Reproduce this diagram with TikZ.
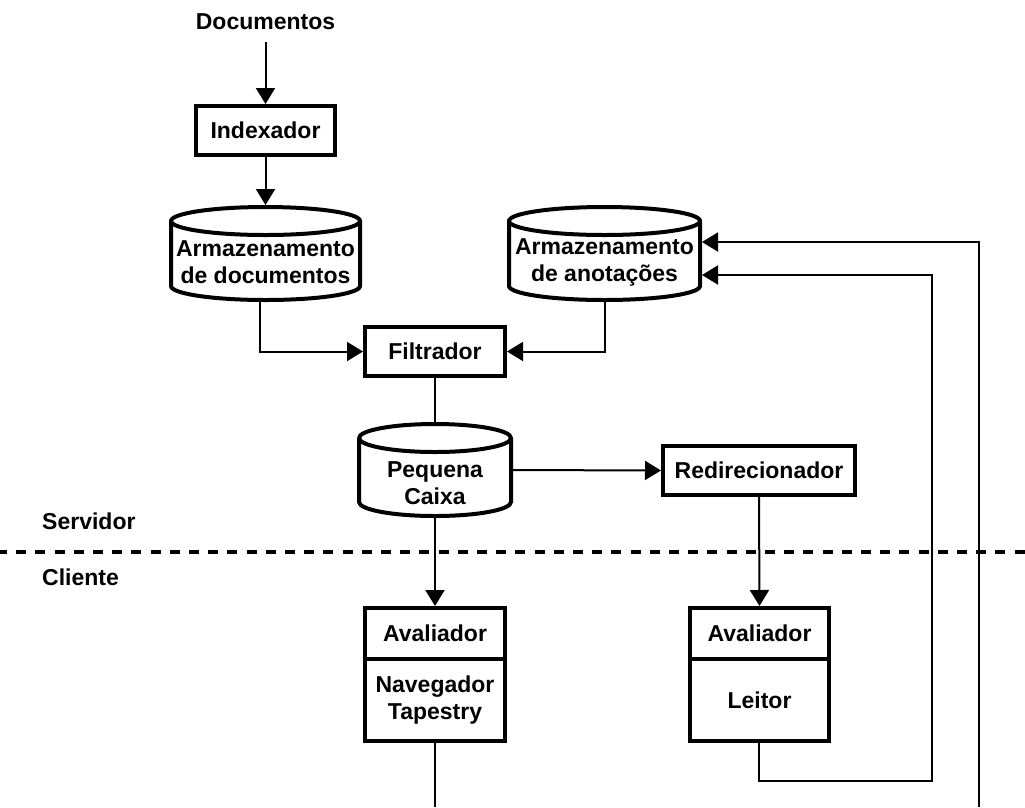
\documentclass[tikz,border=0pt]{standalone}
\usepackage{fontspec}
\setmainfont{Liberation Sans}
\usetikzlibrary{arrows.meta}
\tikzset{
  lbl/.style={font=\bfseries\fontsize{23}{27}\selectfont, align=center, inner sep=0pt},
  boxnode/.style={draw, line width=4pt, fill=white, inner sep=0pt, align=center,
    font=\bfseries\fontsize{23}{27}\selectfont},
  cylline/.style={line width=4pt, line join=round},
  conn/.style={line width=2pt},
  arr/.style={conn, -{Triangle[width=19pt,length=16pt]}},
  sep/.style={line width=4pt, dash pattern=on 10pt off 9.2pt, dash phase=3pt}
}
% #1 name, #2 cx, #3 path top, #4 path bottom, #5 rx
\newcommand\mycyl[5]{%
  \draw[cylline] (#2,-#3-14) ellipse [x radius=#5, y radius=14];
  \draw[cylline] (#2-#5,-#3-14) -- (#2-#5,-#4+14)
     arc [start angle=180, end angle=360, x radius=#5, y radius=14] -- (#2+#5,-#3-14);
  \node[inner sep=0pt, outer sep=0pt, minimum width={2*#5pt+4pt}, minimum height={#4pt-#3pt+4pt}]
     (#1) at (#2,{-(#3+#4)/2}) {};
}
\begin{document}
\begin{tikzpicture}[x=1pt,y=1pt]
\useasboundingbox (0,0) rectangle (1025,-807);

% server / client separator
\draw[sep] (0,-552) -- (1025,-552);
\node[lbl, anchor=west] (srv) at (42,-521) {Servidor};
\node[lbl, anchor=west] (cli) at (42,-577) {Cliente};

% top chain
\node[lbl] (doc) at (265.5,-22) {Documentos};
\node[boxnode, minimum width=139pt, minimum height=49pt] (idx) at (265.5,-130.5) {Indexador};

% cylinders
\mycyl{cyl1}{265.5}{207}{300}{94.5}
\node[lbl] (cyl1t) at (265.5,-262) {Armazenamento\\de documentos};
\mycyl{cyl2}{604.5}{207}{300}{95.5}
\node[lbl] (cyl2t) at (604.5,-262) {Armazenamento\\de anotações};

\node[boxnode, minimum width=140pt, minimum height=49pt] (filt) at (435,-351.5) {Filtrador};

\mycyl{caixa}{435}{424}{516}{76}
\node[lbl] (caixat) at (435,-483) {Pequena\\Caixa};

\node[boxnode, minimum width=192pt, minimum height=49pt] (redir) at (759,-470.5) {Redirecionador};

% client boxes
\node[boxnode, minimum width=140pt, minimum height=51pt] (aval1) at (435,-633.5) {Avaliador};
\node[boxnode, minimum width=140pt, minimum height=82pt] (nav) at (435,-700) {Navegador\\Tapestry};
\node[boxnode, minimum width=139pt, minimum height=51pt] (aval2) at (759.5,-633.5) {Avaliador};
\node[boxnode, minimum width=139pt, minimum height=82pt] (leitor) at (759.5,-700) {Leitor};

% connectors
\draw[arr] ([yshift=-12pt]doc.south) -- (idx.north);
\draw[arr] (idx.south) -- (cyl1.north);
\draw[arr] ([xshift=-5.5pt]cyl1.south) |- (filt.west);
\draw[arr] (cyl2.south) |- (filt.east);
\draw[conn] (filt.south) -- (caixa.north);
\draw[arr] (caixa.east) -- (redir.west);
\draw[arr] (caixa.south) -- (aval1.north);
\draw[arr] (redir.south) -- (aval2.north);
\coordinate (navend) at (435,-807);
\draw[conn] (nav.south) -- (navend);
\coordinate (k1) at (932,-781);
\draw[arr] ([xshift=-0.5pt]leitor.south) |- (k1) |- ([yshift=-21.5pt]cyl2.east);
\coordinate (k2) at (979,-807);
\draw[arr] (k2) |- ([yshift=11.5pt]cyl2.east);
\end{tikzpicture}
\end{document}
